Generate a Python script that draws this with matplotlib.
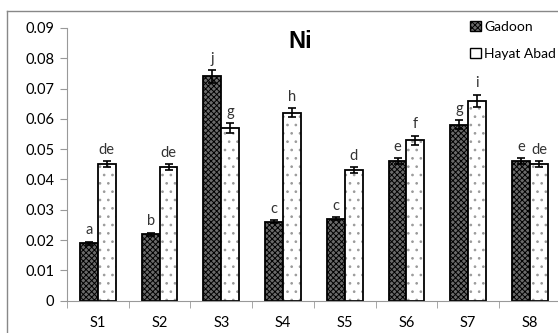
import matplotlib
matplotlib.use("Agg")
import matplotlib.pyplot as plt
import numpy as np
from matplotlib.lines import Line2D
from matplotlib.patches import Patch

plt.rcParams['hatch.linewidth'] = 0.7

sites = ["S1", "S2", "S3", "S4", "S5", "S6", "S7", "S8"]
gadoon = [0.019, 0.022, 0.074, 0.026, 0.027, 0.046, 0.058, 0.046]
hayat = [0.045, 0.044, 0.057, 0.062, 0.043, 0.053, 0.066, 0.045]
gadoon_err = [0.0005, 0.0005, 0.002, 0.0005, 0.0005, 0.001, 0.0015, 0.001]
hayat_err = [0.001, 0.001, 0.0015, 0.0015, 0.001, 0.0015, 0.002, 0.001]
gadoon_letters = ["a", "b", "j", "c", "c", "e", "g", "e"]
hayat_letters = ["de", "de", "g", "h", "d", "f", "i", "de"]
yticks = [0, 0.01, 0.02, 0.03, 0.04, 0.05, 0.06, 0.07, 0.08, 0.09]

font = "Lato"
fig = plt.figure(figsize=(5.58, 3.33), dpi=100)
ax = fig.add_axes([0.120, 0.097, 0.885, 0.819])

x = np.arange(len(sites))
w = 0.29
# Gadoon: dark fine checker pattern
b1 = ax.bar(x - w / 2, gadoon, w, facecolor="#6a6a6a", edgecolor="black",
            hatch="xxxxxx", linewidth=1.3, label="Gadoon")
# Hayat Abad: white with light gray dots (hatch layer + outline layer)
ax.bar(x + w / 2, hayat, w, facecolor="white", edgecolor="#9a9a9a",
       hatch="..", linewidth=0)
b2 = ax.bar(x + w / 2, hayat, w, facecolor="none", edgecolor="black",
            linewidth=1.3, label="Hayat Abad")
ax.errorbar(x - w / 2, gadoon, yerr=gadoon_err, fmt="none", ecolor="black",
            elinewidth=1.2, capsize=3, capthick=1.2)
ax.errorbar(x + w / 2, hayat, yerr=hayat_err, fmt="none", ecolor="black",
            elinewidth=1.2, capsize=3, capthick=1.2)

for i in range(len(sites)):
    ax.annotate(gadoon_letters[i], (x[i] - w / 2, gadoon[i] + gadoon_err[i]),
                xytext=(0, 3), textcoords="offset points", ha="center",
                va="bottom", fontsize=10.5, family=font, color="#333333")
    ax.annotate(hayat_letters[i], (x[i] + w / 2, hayat[i] + hayat_err[i]),
                xytext=(0, 3), textcoords="offset points", ha="center",
                va="bottom", fontsize=10.5, family=font, color="#333333")

ax.set_xlim(-0.5, len(sites) - 0.5)
ax.set_ylim(0, 0.09)
ax.set_yticks(yticks)
ax.set_yticklabels([("%g" % v) if v != 0 else "0" for v in yticks],
                   family=font, fontsize=10.5)
ax.set_xticks(x)
ax.set_xticklabels(sites, family=font, fontsize=10.5)
ax.set_xticks(np.arange(-0.5, len(sites), 1.0), minor=True)
ax.tick_params(axis="x", which="major", length=0, pad=11)
ax.tick_params(axis="x", which="minor", length=5, color="#999999", direction="out")
ax.tick_params(axis="y", length=5, color="#999999", direction="out", pad=4)
for s in ["top", "right"]:
    ax.spines[s].set_visible(False)
for s in ["left", "bottom"]:
    ax.spines[s].set_color("#999999")

ax.text(0.473, 0.95, "Ni", transform=ax.transAxes, fontsize=17,
        fontweight="bold", family="Liberation Sans", ha="center", va="center")

h1 = Patch(facecolor="#6a6a6a", edgecolor="black", hatch="xxxxxx", linewidth=1.0)
h2 = Patch(facecolor="white", edgecolor="black", linewidth=1.0)
leg = fig.legend(handles=[h1, h2], labels=["Gadoon", "Hayat Abad"],
                 loc="upper left", bbox_to_anchor=(0.843, 0.937),
                 frameon=False, prop={"family": font, "size": 10},
                 labelspacing=1.05, handlelength=0.75, handleheight=0.75,
                 handletextpad=0.25, borderaxespad=0, borderpad=0)

# outer chart border (left and top visible)
fig.add_artist(Line2D([7 / 558, 7 / 558], [0, 1 - 11 / 333],
                      transform=fig.transFigure, color="#888888", lw=1.0))
fig.add_artist(Line2D([7 / 558, 1], [1 - 11 / 333, 1 - 11 / 333],
                      transform=fig.transFigure, color="#888888", lw=1.0))

fig.savefig("out.png", dpi=100)
